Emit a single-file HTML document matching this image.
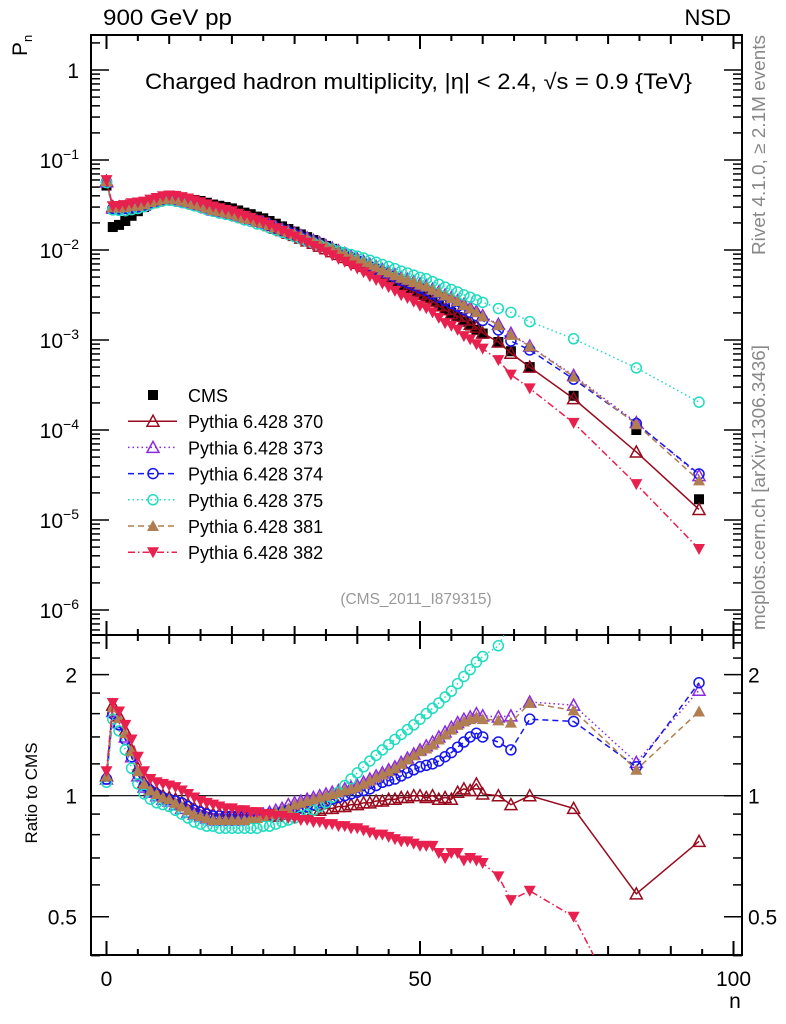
<!DOCTYPE html>
<html><head><meta charset="utf-8">
<style>
html,body{margin:0;padding:0;background:#fff;}
svg{display:block;font-family:"Liberation Sans",sans-serif;}
</style></head>
<body>
<svg id="chart" width="786" height="1024" viewBox="0 0 786 1024" xmlns="http://www.w3.org/2000/svg">
<rect x="0" y="0" width="786" height="1024" fill="#fff"/>
<text x="103" y="25" font-size="22" textLength="129" lengthAdjust="spacingAndGlyphs">900 GeV pp</text>
<text x="731" y="25" font-size="22" text-anchor="end">NSD</text>
<text transform="translate(27,56) rotate(-90)" font-size="21">P<tspan font-size="13" dy="5">n</tspan></text>
<text x="145" y="89" font-size="22" textLength="547" lengthAdjust="spacingAndGlyphs">Charged hadron multiplicity, |η| &lt; 2.4, √s = 0.9 {TeV}</text>
<text transform="translate(765,255) rotate(-90)" font-size="18" fill="#888" textLength="220" lengthAdjust="spacingAndGlyphs">Rivet 4.1.0, ≥ 2.1M events</text>
<text transform="translate(765,630) rotate(-90)" font-size="18" fill="#888" textLength="285" lengthAdjust="spacingAndGlyphs">mcplots.cern.ch [arXiv:1306.3436]</text>
<text x="416" y="604" font-size="15.5" fill="#999" text-anchor="middle">(CMS_2011_I879315)</text>
<text transform="translate(37,793) rotate(-90)" font-size="17" text-anchor="middle">Ratio to CMS</text>
<text x="735" y="1008" font-size="21" text-anchor="middle">n</text>
<defs>
<clipPath id="clipTop"><rect x="91" y="35" width="651" height="600"/></clipPath>
<clipPath id="clipRat"><rect x="91" y="635" width="651" height="320"/></clipPath>
</defs>
<g id="axes"></g>
<g id="topMarks" clip-path="url(#clipTop)"></g>
<g id="ratMarks" clip-path="url(#clipRat)"></g>
<g id="legend"></g>
</svg>
<script>
const nVals=[0,1,2,3,4,5,6,7,8,9,10,11,12,13,14,15,16,17,18,19,20,21,22,23,24,25,26,27,28,29,30,31,32,33,34,35,36,37,38,39,40,41,42,43,44,45,46,47,48,49,50,51,52,53,54,55,56,57,58,59,60,62.5,64.5,67.5,74.5,84.5,94.5];
const cmsVals=[.052,.018,.019,.021,.024,.027,.030,.033,.035,.037,.038,.038,.0375,.037,.036,.035,.0335,.032,.031,.030,.029,.0275,.026,.025,.0235,.0225,.021,.0196,.0183,.0171,.016,.0149,.0139,.0129,.012,.0111,.0103,.0095,.0088,.0081,.0075,.0069,.0063,.0058,.0053,.0049,.0045,.0041,.0038,.0035,.0032,.0030,.0027,.00245,.0022,.002,.0018,.0016,.00145,.0013,.00118,.00095,.00075,.0005,.00024,.0001,.000017];
const r370=[1.12,1.68,1.58,1.45,1.3,1.17,1.08,1.04,1.02,1.0,0.99, 0.98,0.96,0.95,0.93,0.92,0.91,0.9,0.9,0.89,0.89, 0.89,0.89,0.89,0.89,0.89,0.89,0.89,0.9,0.9,0.91, 0.91,0.91,0.92,0.92,0.93,0.93,0.94,0.94,0.95,0.95, 0.96,0.96,0.97,0.97,0.98,0.98,0.99,0.99,1.0,1.0, 0.99,1.0,0.98,0.99,0.98,1.02,1.04,1.03,1.07,1.01, 1.0,0.95,1.0,0.93,0.57,0.77];
const r373=[1.1,1.62,1.52,1.4,1.25,1.12,1.05,1.02,1.0,0.98,0.97, 0.95,0.93,0.91,0.9,0.89,0.88,0.87,0.87,0.87,0.87, 0.87,0.88,0.88,0.89,0.9,0.91,0.92,0.93,0.95,0.96, 0.97,0.98,0.99,1.0,1.01,1.02,1.03,1.04,1.05,1.06, 1.08,1.1,1.12,1.14,1.16,1.18,1.21,1.24,1.27,1.3, 1.33,1.36,1.4,1.44,1.48,1.52,1.55,1.57,1.6,1.58, 1.57,1.58,1.71,1.68,1.21,1.83];
const r374=[1.1,1.6,1.5,1.38,1.25,1.13,1.06,1.03,1.01,0.99,0.98, 0.97,0.96,0.94,0.92,0.91,0.9,0.89,0.89,0.89,0.89, 0.89,0.89,0.89,0.89,0.89,0.9,0.9,0.91,0.92,0.93, 0.93,0.94,0.95,0.96,0.97,0.98,0.99,1.0,1.01,1.02, 1.03,1.04,1.06,1.08,1.09,1.1,1.12,1.14,1.16,1.18, 1.19,1.2,1.22,1.25,1.28,1.32,1.36,1.4,1.43,1.4, 1.36,1.3,1.55,1.53,1.18,1.91];
const r375=[1.08,1.55,1.45,1.3,1.17,1.07,1.01,0.98,0.96,0.95,0.94, 0.92,0.9,0.88,0.86,0.85,0.84,0.84,0.83,0.83,0.83, 0.83,0.83,0.83,0.83,0.84,0.84,0.85,0.86,0.87,0.88, 0.89,0.9,0.92,0.94,0.96,0.99,1.02,1.06,1.1,1.14, 1.18,1.22,1.26,1.3,1.34,1.38,1.42,1.46,1.5,1.55, 1.6,1.65,1.7,1.76,1.82,1.9,1.98,2.06,2.15,2.22, 2.36,2.7,3.2,4.3,4.9,12];
const r381=[1.12,1.66,1.56,1.43,1.29,1.15,1.07,1.03,1.01,0.99,0.98, 0.96,0.94,0.92,0.9,0.89,0.88,0.87,0.87,0.87,0.87, 0.87,0.87,0.88,0.88,0.89,0.9,0.91,0.92,0.93,0.95, 0.96,0.97,0.98,0.99,1.0,1.01,1.02,1.03,1.04,1.05, 1.07,1.09,1.11,1.13,1.15,1.17,1.2,1.23,1.26,1.29, 1.31,1.34,1.38,1.42,1.46,1.5,1.53,1.55,1.57,1.55, 1.54,1.52,1.70,1.63,1.16,1.62];
const r382=[1.15,1.7,1.62,1.5,1.38,1.25,1.15,1.1,1.08,1.07,1.06, 1.05,1.03,1.01,0.99,0.97,0.96,0.95,0.94,0.93,0.93, 0.92,0.92,0.91,0.91,0.9,0.9,0.89,0.89,0.88,0.88, 0.87,0.87,0.86,0.86,0.85,0.85,0.84,0.84,0.83,0.83, 0.82,0.81,0.8,0.8,0.79,0.78,0.77,0.77,0.76,0.75, 0.75,0.75,0.72,0.7,0.72,0.72,0.69,0.7,0.69,0.68, 0.63,0.55,0.58,0.5,0.25,0.28];
const legendNames=["CMS","Pythia 6.428 370","Pythia 6.428 373","Pythia 6.428 374","Pythia 6.428 375","Pythia 6.428 381","Pythia 6.428 382"];
const xTicks=[0,50,100];
const yTopTicks=[0,-1,-2,-3,-4,-5,-6];
const yRatTicks=[0.5,1,2];

const NS="http://www.w3.org/2000/svg";
const X0=91,X1=742,TT=35,TB=635,RB=955;
const xs=n=>106.5+6.27*n;
const yTop=v=>70-90*Math.log10(v);
const yRat=r=>795.7-402*Math.log10(r);
function mk(tag,attrs,parent){const e=document.createElementNS(NS,tag);for(const k in attrs)e.setAttribute(k,attrs[k]);parent.appendChild(e);return e;}
const axes=document.getElementById('axes');
let f1=mk('rect',{x:X0,y:TT,width:X1-X0,height:TB-TT,fill:'none',stroke:'#000','stroke-width':2},axes);


let f2=mk('rect',{x:X0,y:TB,width:X1-X0,height:RB-TB,fill:'none',stroke:'#000','stroke-width':2},axes);


let ul=mk('line',{x1:X0,x2:X1,y1:yRat(1),y2:yRat(1),stroke:'#000','stroke-width':1.2},axes);


for(let n=0;n<=100;n+=5){
  const L=(n%50===0)?14:(n%10===0?9:6);
  mk('line',{x1:xs(n),x2:xs(n),y1:TT,y2:TT+L,stroke:'#000','stroke-width':2},axes);
  mk('line',{x1:xs(n),x2:xs(n),y1:TB-L,y2:TB+L,stroke:'#000','stroke-width':2},axes);
  mk('line',{x1:xs(n),x2:xs(n),y1:RB,y2:RB-L,stroke:'#000','stroke-width':2},axes);
}
xTicks.forEach(n=>{const t=mk('text',{x:xs(n),y:986,'font-size':21,'text-anchor':'middle'},axes);t.textContent=n;

});
for(let d=1;d>=-7;d--){
  for(let m=1;m<=9;m++){
    const v=m*Math.pow(10,d);const y=yTop(v);if(y<TT||y>TB)continue;
    const L=m===1?18:9;
    mk('line',{x1:X0,x2:X0+L,y1:y,y2:y,stroke:'#000','stroke-width':1.5},axes);
    mk('line',{x1:X1,x2:X1-L,y1:y,y2:y,stroke:'#000','stroke-width':1.5},axes);
  }
}
yTopTicks.forEach(d=>{const y=yTop(Math.pow(10,d));const t=mk('text',{x:79,y:y+8,'font-size':21,'text-anchor':'end'},axes);
 if(d===0)t.textContent='1';else{t.textContent='10';const s=mk('tspan',{dy:-9,'font-size':14},t);s.textContent='−'+(-d);}

});
[0.4,0.6,0.7,0.8,0.9,1.2,1.4,1.6,1.8,2.2,2.4].forEach(r=>{const y=yRat(r);
 mk('line',{x1:X0,x2:X0+9,y1:y,y2:y,stroke:'#000','stroke-width':1.5},axes);
 mk('line',{x1:X1,x2:X1-9,y1:y,y2:y,stroke:'#000','stroke-width':1.5},axes);});
yRatTicks.forEach(r=>{const y=yRat(r);
 mk('line',{x1:X0,x2:X0+18,y1:y,y2:y,stroke:'#000','stroke-width':1.5},axes);
 mk('line',{x1:X1,x2:X1-18,y1:y,y2:y,stroke:'#000','stroke-width':1.5},axes);
 const t=mk('text',{x:77,y:y+8,'font-size':21,'text-anchor':'end'},axes);t.textContent=r;
 
 
 const t2=mk('text',{x:748,y:y+8,'font-size':21},axes);t2.textContent=r;
 
 });

function marker(g,type,color,x,y){
  const s=5;let e;
  if(type==='square')e=mk('rect',{x:x-s,y:y-s,width:2*s,height:2*s,fill:color},g);
  else if(type==='triUpOpen')e=mk('polygon',{points:`${x},${y-6} ${x-6},${y+5} ${x+6},${y+5}`,fill:'none',stroke:color,'stroke-width':1.5},g);
  else if(type==='triUpFill')e=mk('polygon',{points:`${x},${y-6} ${x-6},${y+5} ${x+6},${y+5}`,fill:color},g);
  else if(type==='triDownFill')e=mk('polygon',{points:`${x},${y+6} ${x-6},${y-5} ${x+6},${y-5}`,fill:color},g);
  else e=mk('circle',{cx:x,cy:y,r:5,fill:'none',stroke:color,'stroke-width':1.5},g);
  return e;
}
const series=[
 {name:'pythia-370',ratio:r370,color:'#990a1e',mark:'triUpOpen',dash:''},
 {name:'pythia-373',ratio:r373,color:'#8a2be2',mark:'triUpOpen',dash:'1.5,3'},
 {name:'pythia-374',ratio:r374,color:'#1515ee',mark:'circle',dash:'6,4'},
 {name:'pythia-375',ratio:r375,color:'#20dcc0',mark:'circle',dash:'1.5,3'},
 {name:'pythia-381',ratio:r381,color:'#b07e50',mark:'triUpFill',dash:'6,4'},
 {name:'pythia-382',ratio:r382,color:'#e8204e',mark:'triDownFill',dash:'7,3,1.5,3'}
];
const topG=document.getElementById('topMarks'),ratG=document.getElementById('ratMarks');
const cg=mk('g',{},topG);


nVals.forEach((n,i)=>{const m=marker(cg,'square','#000',xs(n),yTop(cmsVals[i]));
 
 });
series.forEach(s=>{
  const vals=nVals.map((n,i)=>cmsVals[i]*s.ratio[i]);
  const g=mk('g',{},topG);
  
  
  mk('polyline',{points:nVals.map((n,i)=>xs(n)+','+yTop(vals[i])).join(' '),fill:'none',stroke:s.color,'stroke-width':1.5,'stroke-dasharray':s.dash},g);
  nVals.forEach((n,i)=>{const m=marker(g,s.mark,s.color,xs(n),yTop(vals[i]));
   
   });
  const rg=mk('g',{},ratG);
  
  
  mk('polyline',{points:nVals.map((n,i)=>xs(n)+','+yRat(s.ratio[i])).join(' '),fill:'none',stroke:s.color,'stroke-width':1.5,'stroke-dasharray':s.dash},rg);
  nVals.forEach((n,i)=>{const m=marker(rg,s.mark,s.color,xs(n),yRat(s.ratio[i]));
   
   });
});
const lg=document.getElementById('legend');


legendNames.forEach((nm,i)=>{
  const y=395+i*26.2;
  const e=mk('g',{},lg);
  
  
  if(i===0){marker(e,'square','#000',153,y);}
  else{const s=series[i-1];
    mk('line',{x1:128,x2:177,y1:y,y2:y,stroke:s.color,'stroke-width':1.5,'stroke-dasharray':s.dash},e);
    marker(e,s.mark,s.color,153,y);}
  const t=mk('text',{x:188,y:y+7,'font-size':18},e);t.textContent=nm;
});
</script>
</body></html>
